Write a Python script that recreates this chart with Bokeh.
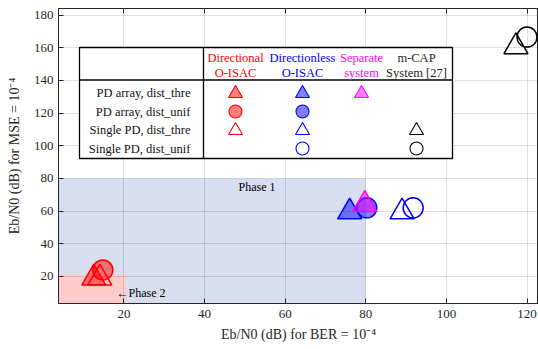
from bokeh.plotting import figure
from bokeh.models import Range1d, LinearAxis, FixedTicker
from bokeh.core.properties import value
from bokeh.embed import file_html
from bokeh.resources import INLINE

# ---------------- data ----------------
# Directional O-ISAC (red): PD array dist_thre, PD array dist_unif, Single PD dist_thre
dir_x = [12.5, 14.75, 14.0]
dir_y = [19.0, 24.0, 19.0]
# Directionless O-ISAC (blue): PD thre, PD unif, Single thre, Single unif
dless_x = [76.0, 80.25, 89.0, 91.75]
dless_y = [59.5, 62.0, 59.5, 62.0]
# Separate system (magenta): PD array dist_thre
sep_x = [79.75]
sep_y = [64.0]
# m-CAP System [27] (black): Single thre, Single unif
mcap_x = [117.25, 120.0]
mcap_y = [160.6, 166.5]

# phase regions (upper-right corner in data units)
phase1_xy = (80.0, 80.0)
phase2_xy = (20.5, 21.2)

x_ticks = [20, 40, 60, 80, 100, 120]
y_ticks = [20, 40, 60, 80, 100, 120, 140, 160, 180]

row_labels = ["PD array, dist_thre", "PD array, dist_unif",
              "Single PD, dist_thre", "Single PD, dist_unif"]
col_line1 = ["Directional", "Directionless", "Separate", "m-CAP"]
col_line2 = ["O-ISAC", "O-ISAC", "system", "System [27]"]
col_colors = ["#FF0000", "#0000FF", "#FF00FF", "#262626"]
# which rows each column shows in the table
col_rows = [[0, 1, 2], [0, 1, 2, 3], [0], [2, 3]]

# ---------------- figure ----------------
W, H = 538, 349
FL, FR, FT, FB = 58, 538, 8, 303
x0, x1 = 3.75, 122.85
y0, y1 = 3.45, 184.0

p = figure(width=W, height=H, output_backend="svg", toolbar_location=None,
           x_range=Range1d(x0, x1), y_range=Range1d(y0, y1),
           min_border_left=FL, min_border_right=W - FR,
           min_border_top=FT, min_border_bottom=H - FB)
p.background_fill_color = "white"
p.border_fill_color = "white"
p.outline_line_color = "#262626"
p.outline_line_width = 1

FONT = "Liberation Serif"
TC = "#262626"

p.xaxis.ticker = FixedTicker(ticks=x_ticks)
p.yaxis.ticker = FixedTicker(ticks=y_ticks)

for ax in [p.xaxis[0], p.yaxis[0]]:
    ax.major_tick_in = 5
    ax.major_tick_out = 0
    ax.minor_tick_line_color = None
    ax.axis_line_color = TC
    ax.major_tick_line_color = TC
    ax.major_label_text_font = FONT
    ax.major_label_text_font_size = "13px"
    ax.major_label_text_color = TC
    ax.axis_label_text_font = FONT
    ax.axis_label_text_font_size = "14px"
    ax.axis_label_text_font_style = "normal"
    ax.axis_label_text_color = TC

p.xaxis[0].major_label_standoff = 6
p.xaxis[0].axis_label_standoff = 6
p.yaxis[0].major_label_standoff = 5
p.yaxis[0].axis_label_standoff = 9
p.xaxis[0].axis_label = "Eb/N0 (dB) for BER = 10\u207b\u2074"
p.yaxis[0].axis_label = "Eb/N0 (dB) for MSE = 10\u207b\u2074"

top_ax = LinearAxis(ticker=FixedTicker(ticks=x_ticks), major_tick_in=5, major_tick_out=0,
                    minor_tick_line_color=None,
                    major_label_overrides={t: "" for t in x_ticks},
                    major_label_standoff=0, axis_line_color=TC, major_tick_line_color=TC)
p.add_layout(top_ax, "above")

p.grid.grid_line_color = "#262626"
p.grid.grid_line_alpha = 0.15

# ---------------- phase regions ----------------
p.quad(left=[x0], right=[phase1_xy[0]], bottom=[y0], top=[phase1_xy[1]],
       fill_color="#D6DEEF", line_color=None, level="image")
p.quad(left=[x0], right=[phase2_xy[0]], bottom=[y0], top=[phase2_xy[1]],
       fill_color="#FFCBCB", line_color=None, level="image")

def px2x(px):
    return x0 + (px - FL) / (FR - FL) * (x1 - x0)

def py2y(py):
    return y1 - (py - FT) / (FB - FT) * (y1 - y0)

p.text(x=[px2x(238)], y=[py2y(186)], text=["Phase 1"], text_font=value(FONT),
       text_font_size="12px", text_color="black", text_baseline="middle", text_align="left")
p.text(x=[px2x(116)], y=[py2y(292)], text=["\u2190Phase 2"], text_font=value(FONT),
       text_font_size="12px", text_color="black", text_baseline="middle", text_align="left")

# ---------------- data markers ----------------
TS, CS = 24, 20
RED, BLUE, MAG, BLK = "#FF0000", "#0000FF", "#FF00FF", "#000000"

# Directional (red)
p.scatter([dir_x[0]], [dir_y[0]], marker="triangle", size=TS, fill_color=RED, fill_alpha=0.5,
          line_color=RED, line_width=1.5)
p.scatter([dir_x[1]], [dir_y[1]], marker="circle", size=CS, fill_color=RED, fill_alpha=0.5,
          line_color=RED, line_width=1.5)
p.scatter([dir_x[2]], [dir_y[2]], marker="triangle", size=TS, fill_color=None,
          line_color=RED, line_width=1.5)
# Directionless (blue)
p.scatter([dless_x[0]], [dless_y[0]], marker="triangle", size=TS, fill_color=BLUE, fill_alpha=0.5,
          line_color=BLUE, line_width=1.5)
p.scatter([dless_x[1]], [dless_y[1]], marker="circle", size=CS, fill_color=BLUE, fill_alpha=0.5,
          line_color=BLUE, line_width=1.5)
p.scatter([dless_x[2]], [dless_y[2]], marker="triangle", size=TS, fill_color=None,
          line_color=BLUE, line_width=1.5)
p.scatter([dless_x[3]], [dless_y[3]], marker="circle", size=CS, fill_color=None,
          line_color=BLUE, line_width=1.5)
# Separate (magenta)
p.scatter(sep_x, sep_y, marker="triangle", size=TS, fill_color=MAG, fill_alpha=0.5,
          line_color=MAG, line_width=1.5)
# m-CAP (black)
p.scatter([mcap_x[0]], [mcap_y[0]], marker="triangle", size=TS, fill_color=None,
          line_color=BLK, line_width=1.5)
p.scatter([mcap_x[1]], [mcap_y[1]], marker="circle", size=CS, fill_color=None,
          line_color=BLK, line_width=1.5)

# ---------------- table legend ----------------
BL, BR, BT, BB = 79, 452, 47, 158
HDR_Y = 79.5
VSEP = 203
col_cx = [235, 302, 361, 416]
row_cy = [92, 111, 129, 148]
hdr_y = [57, 72]

p.quad(left=[px2x(BL)], right=[px2x(BR)], bottom=[py2y(BB)], top=[py2y(BT)],
       fill_color="white", line_color="black", line_width=1.3)
p.segment(x0=[px2x(BL)], x1=[px2x(BR)], y0=[py2y(HDR_Y)], y1=[py2y(HDR_Y)],
          line_color="black", line_width=1.3)
p.segment(x0=[px2x(VSEP)], x1=[px2x(VSEP)], y0=[py2y(BT)], y1=[py2y(BB)],
          line_color="black", line_width=1.3)

p.text(x=[px2x(190)] * 4, y=[py2y(v) for v in row_cy], text=row_labels,
       text_font=value(FONT), text_font_size="12.5px", text_color="#111111",
       text_align="right", text_baseline="middle")
for ci in range(4):
    p.text(x=[px2x(col_cx[ci])] * 2, y=[py2y(hdr_y[0]), py2y(hdr_y[1])],
           text=[col_line1[ci], col_line2[ci]], text_font=value(FONT),
           text_font_size="12.5px", text_color=col_colors[ci],
           text_align="center", text_baseline="middle")

mark_cols = [RED, BLUE, MAG, BLK]
for ci in range(4):
    c = mark_cols[ci]
    for r in col_rows[ci]:
        mk = "triangle" if r in (0, 2) else "circle"
        filled = r in (0, 1)
        sz = 14 if mk == "triangle" else 13
        yy = row_cy[r] + (1 if mk == "triangle" else 0)
        p.scatter([px2x(col_cx[ci])], [py2y(yy)], marker=mk, size=sz,
                  fill_color=c if filled else None, fill_alpha=0.5,
                  line_color=c, line_width=1.1)

open("out.html", "w").write(file_html(p, INLINE))
